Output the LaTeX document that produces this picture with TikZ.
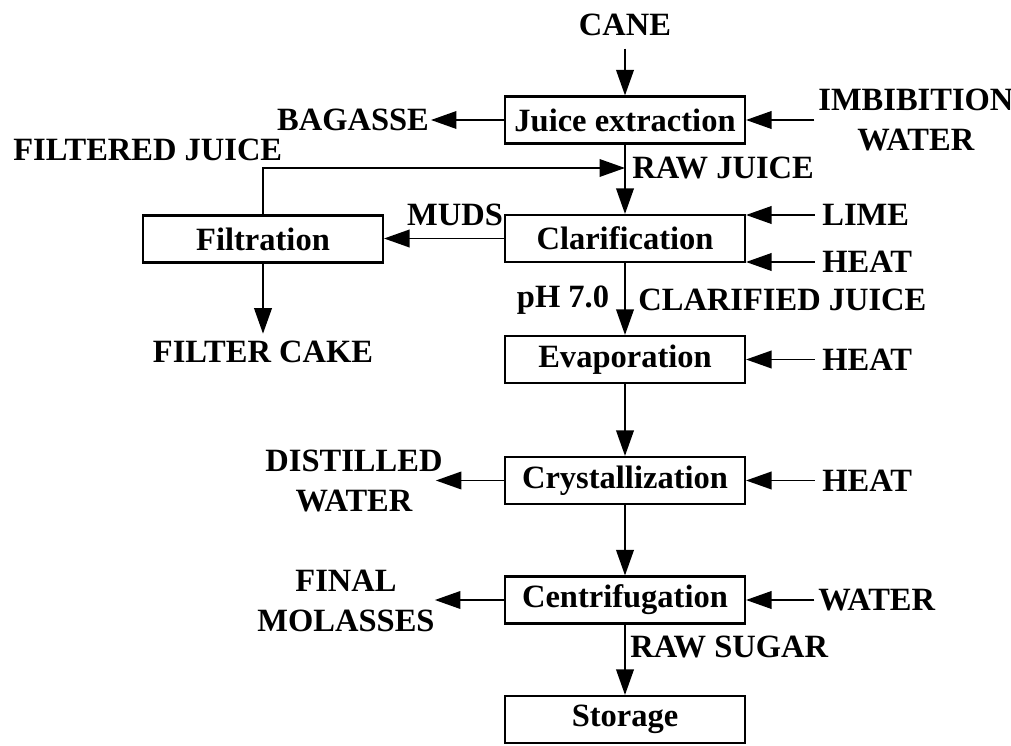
\documentclass[tikz,border=0pt]{standalone}
\usepackage{fontspec}
\setmainfont{Liberation Serif}
\usetikzlibrary{arrows.meta,calc}

\tikzset{
  stage/.style={draw, line width=1.2pt, minimum width=4.8cm, minimum height=0.94cm, inner sep=0pt},
  tag/.style={inner sep=1pt, align=center},
  flow/.style={line width=1pt, -{Triangle[length=14.5pt,width=10pt]}},
}

\begin{document}
\begin{tikzpicture}[x=0.02cm, y=-0.02cm, font=\fontsize{18.5}{22.8}\selectfont\bfseries]
		%%%%% START %%%%%
		\useasboundingbox (0,0) rectangle (1011,746);
		
		% process column
		\node[stage] (juice) at (625,120) {Juice extraction};
		\node[stage] (clar) at (625,238.5) {Clarification};
		\node[stage] (filt) at (263,239) {Filtration};
		\node[stage] (evap) at (625,359.5) {Evaporation};
		\node[stage] (crys) at (625,480.5) {Crystallization};
		\node[stage] (cent) at (625,600) {Centrifugation};
		\node[stage] (stor) at (625,719.5) {Storage};
		
		% streams in and out
		\node[tag, inner ysep=7pt] (cane) at (625,25) {CANE};
		\node[tag, anchor=east] (bagasse) at (431,120) {BAGASSE};
		\node[tag, anchor=west, inner sep=0pt] (imbib) at (818,120) {IMBIBITION\\WATER};
		\node[tag, anchor=west, inner sep=0pt] (filtj) at (13,150) {FILTERED JUICE};
		\node[tag, anchor=west, inner sep=0pt] (rawj) at (632,168) {RAW JUICE};
		\coordinate (merge) at (625,168);
		\node[tag] (muds) at (455,215) {MUDS};
		\node[tag, anchor=west, inner sep=0pt] (lime) at (822,215) {LIME};
		\node[tag, anchor=west, inner sep=0pt] (heatA) at (822,262) {HEAT};
		\node[tag, inner ysep=4pt] (fcake) at (263,352) {FILTER CAKE};
		\node[tag] (ph) at (563,300) {pH 7.0};
		\node[tag, anchor=west, inner sep=0pt] (clarj) at (638,300) {CLARIFIED JUICE};
		\node[tag, anchor=west, inner sep=0pt] (heatB) at (822,359.5) {HEAT};
		\node[tag, inner sep=0pt] (dist) at (354,481) {DISTILLED\\WATER};
		\node[tag, anchor=west, inner sep=0pt] (heatC) at (822,480.5) {HEAT};
		\node[tag, inner sep=0pt] (mol) at (346,601) {FINAL\\MOLASSES};
		\node[tag, anchor=west, inner sep=0pt] (water) at (818,600) {WATER};
		\node[tag, anchor=west, inner sep=0pt] (rawsug) at (630,647) {RAW SUGAR};
		
		% connectors
		\draw[flow] (cane.south) -- (juice.north);
		\draw[flow] (juice.west) -- (bagasse.east);
		\draw[flow] ([xshift=-2pt]imbib.west) -- (imbib.west -| juice.east);
		\draw[flow] (juice.south) -- (clar.north);
		\draw[flow] (filt.north) |- (merge);
		\draw[flow] (clar.west) -- (clar.west -| filt.east);
		\draw[flow] ([xshift=-4pt]lime.west) -- (lime.west -| clar.east);
		\draw[flow] ([xshift=-4pt]heatA.west) -- (heatA.west -| clar.east);
		\draw[flow] (filt.south) -- (fcake.north);
		\draw[flow] (clar.south) -- (evap.north);
		\draw[flow] ([xshift=-4pt]heatB.west) -- (heatB.west -| evap.east);
		\draw[flow] (evap.south) -- (crys.north);
		\draw[flow] (crys.west) -- ([xshift=-4pt]crys.west -| dist.east);
		\draw[flow] ([xshift=-4pt]heatC.west) -- (heatC.west -| crys.east);
		\draw[flow] (crys.south) -- (cent.north);
		\draw[flow] (cent.west) -- (cent.west -| mol.east);
		\draw[flow] ([xshift=-2pt]water.west) -- (water.west -| cent.east);
		\draw[flow] (cent.south) -- (stor.north);
		
		%%%%% END %%%%%
	\end{tikzpicture}
\end{document}
